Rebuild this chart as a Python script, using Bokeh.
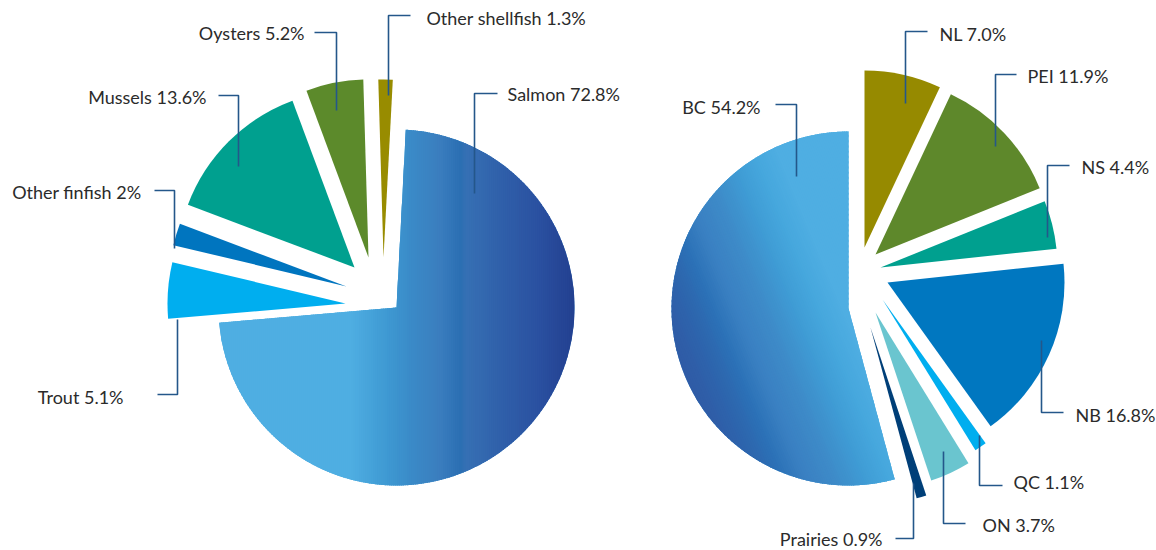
import numpy as np
from bokeh.plotting import figure
from bokeh.models import Range1d, ColumnDataSource
from bokeh.core.properties import value
from bokeh.embed import file_html
from bokeh.resources import INLINE

# ---------------- data ----------------
species = ["Salmon", "Trout", "Other finfish", "Mussels", "Oysters", "Other shellfish"]
species_share = [72.8, 5.1, 2.0, 13.6, 5.2, 1.3]
species_labels = ["Salmon 72.8%", "Trout 5.1%", "Other finfish 2%", "Mussels 13.6%",
                  "Oysters 5.2%", "Other shellfish 1.3%"]

regions = ["NL", "PEI", "NS", "NB", "QC", "ON", "Prairies", "BC"]
region_share = [7.0, 11.9, 4.4, 16.8, 1.1, 3.7, 0.9, 54.2]
region_labels = ["NL 7.0%", "PEI 11.9%", "NS 4.4%", "NB 16.8%", "QC 1.1%", "ON 3.7%",
                 "Prairies 0.9%", "BC 54.2%"]

# ---------------- styles ----------------
species_colors = ["#4FAEE2", "#00AEEF", "#0075BF", "#00A08F", "#5C8A2B", "#988C00"]
region_colors = ["#968A00", "#5E882B", "#00A08F", "#0077C0", "#00AEEF", "#6AC5CF", "#003F78", "#4FAEE2"]

# explode offsets (px; x right, y up)
species_explode = [(0, 0), (-51, 4), (-50, 21), (-42, 40), (-28, 50), (-13, 50)]
region_explode = [(16, 61), (27, 54), (32, 41), (39, 26), (34, 9), (27, -4), (22, -19), (0, 0)]

salmon_stops = [(-46, "#4FAEE2"), (-11, "#3F9AD3"), (14, "#3A8BC8"), (44, "#3A7DBE"),
                (64, "#2B6FB3"), (70, "#3670B4"), (104, "#3060AA"), (144, "#2A50A0"),
                (179, "#233F8F")]
bc_stops = [(-180, "#2F5AA5"), (-165, "#2F5EA8"), (-145, "#2D66AE"), (-125, "#2C72B7"),
            (-105, "#3A80C2"), (-78, "#3E8BC8"), (-51, "#3F9BD4"), (-28, "#46A7DD"),
            (-5, "#4FAEE2"), (200, "#4FAEE2")]

LINE_COLOR = "#24578A"
TEXT_COLOR = "#2B2B2B"
FONT = "Lato"
FONT_SIZE = "18px"

IMG_W, IMG_H = 1156, 550


def fy(v):
    return IMG_H - v


p = figure(width=IMG_W, height=IMG_H, x_range=Range1d(0, IMG_W), y_range=Range1d(0, IMG_H),
           output_backend="svg", toolbar_location=None, min_border=0,
           x_axis_location=None, y_axis_location=None)
p.grid.visible = False
p.outline_line_color = None
p.background_fill_color = "white"
p.border_fill_color = "white"


def hex2rgb(h):
    return np.array([int(h[i:i + 2], 16) for i in (1, 3, 5)], float)


def grad_color(t, stops):
    ts = [s[0] for s in stops]
    cs = np.array([hex2rgb(s[1]) for s in stops])
    rgb = [np.interp(t, ts, cs[:, k]) for k in range(3)]
    return "#%02x%02x%02x" % tuple(int(round(v)) for v in rgb)


def sector_poly(cx, cy, r, a0, a1, n=500):
    t = np.linspace(a0, a1, n)
    xs = np.concatenate([[cx], cx + r * np.cos(t)])
    ys = np.concatenate([[cy], cy + r * np.sin(t)])
    return list(zip(xs, ys))


def clip_half(poly, ux, uy, c, keep_ge):
    def f(pt):
        return ux * pt[0] + uy * pt[1] - c

    def inside(pt):
        v = f(pt)
        return v >= 0 if keep_ge else v <= 0

    def inter(a, b):
        fa, fb = f(a), f(b)
        t = fa / (fa - fb)
        return (a[0] + t * (b[0] - a[0]), a[1] + t * (b[1] - a[1]))

    out = []
    n = len(poly)
    for i in range(n):
        cur, prev = poly[i], poly[i - 1]
        ci, pi = inside(cur), inside(prev)
        if ci:
            if not pi:
                out.append(inter(prev, cur))
            out.append(cur)
        elif pi:
            out.append(inter(prev, cur))
    return out


def gradient_strips(cx, cy, r, a0, a1, axis, stops, step=2.0):
    ux, uy = axis
    nrm = np.hypot(ux, uy)
    ux, uy = ux / nrm, uy / nrm
    poly = sector_poly(cx, cy, r, a0, a1)
    proj = [ux * (x - cx) + uy * (y - cy) for x, y in poly]
    tmin, tmax = min(proj), max(proj)
    xs, ys, cols = [], [], []
    t = tmin
    while t < tmax:
        c0 = ux * cx + uy * cy + t
        c1 = c0 + step + 0.9
        piece = clip_half(poly, ux, uy, c0, True)
        if piece:
            piece = clip_half(piece, ux, uy, c1, False)
        if len(piece) >= 3:
            xs.append([q[0] for q in piece])
            ys.append([q[1] for q in piece])
            cols.append(grad_color(t + step / 2, stops))
        t += step
    p.patches(xs=xs, ys=ys, fill_color=cols, line_color=None)


def draw_pie(cx, cy, r, start_deg, shares, colors, explode, gradients):
    shares = np.array(shares, float)
    cum = np.concatenate([[0], np.cumsum(shares)[:-1]])
    a_hi = np.deg2rad(start_deg) - 2 * np.pi * cum / 100.0
    a_lo = a_hi - 2 * np.pi * shares / 100.0
    xs = [cx + e[0] for e in explode]
    ys = [cy + e[1] for e in explode]
    src = ColumnDataSource(dict(x=xs, y=ys, start=a_lo, end=a_hi, color=colors))
    p.wedge(x="x", y="y", radius=r, start_angle="start", end_angle="end",
            fill_color="color", line_color=None, source=src)
    for idx, (axis, stops) in gradients.items():
        gradient_strips(xs[idx], ys[idx], r, a_lo[idx], a_hi[idx], axis, stops)


def draw_labels(labels, leg_x, in_y, lab_y, end_x, text_x, text_y, align):
    mx = [[e, l, l] for e, l in zip(end_x, leg_x)]
    my = [[fy(a), fy(a), fy(b)] for a, b in zip(lab_y, in_y)]
    p.multi_line(xs=mx, ys=my, line_color=LINE_COLOR, line_width=1.6)
    for side in ("left", "right"):
        sel = [i for i, a in enumerate(align) if a == side]
        if not sel:
            continue
        src = ColumnDataSource(dict(x=[text_x[i] for i in sel], y=[fy(text_y[i]) for i in sel],
                                    t=[labels[i] for i in sel]))
        p.text(x="x", y="y", text="t", source=src, text_align=side, text_baseline="middle",
               text_font=value(FONT), text_font_size=FONT_SIZE, text_color=TEXT_COLOR)


# left pie: production by species
draw_pie(396, fy(307), 178, 87, species_share, species_colors, species_explode,
         {0: ((1.0, 0.0), salmon_stops)})
draw_labels(species_labels,
            leg_x=[474, 177, 174, 238, 336, 388],
            in_y=[193, 319, 248, 166, 110, 95],
            lab_y=[93, 394, 190, 95, 32, 15],
            end_x=[497, 157, 154, 218, 314, 410],
            text_x=[507, 123, 141, 206, 304, 426],
            text_y=[93, 396, 191, 96, 32, 17],
            align=["left", "right", "right", "right", "right", "left"])

# right pie: production by region
draw_pie(848, fy(308), 177, 90, region_share, region_colors, region_explode,
         {7: ((0.925, 0.381), bc_stops)})
draw_labels(region_labels,
            leg_x=[905, 995, 1047, 1041, 979, 943, 913, 796],
            in_y=[103, 146, 237, 340, 435, 451, 483, 176],
            lab_y=[31, 74, 165, 412, 485, 523, 538, 104],
            end_x=[927, 1016, 1069, 1063, 1002, 965, 895, 775],
            text_x=[939, 1027, 1081, 1075, 1013, 982, 882, 760],
            text_y=[33, 75, 166, 414, 481, 524, 538, 106],
            align=["left", "left", "left", "left", "left", "left", "right", "right"])

open("out.html", "w").write(file_html(p, INLINE))
